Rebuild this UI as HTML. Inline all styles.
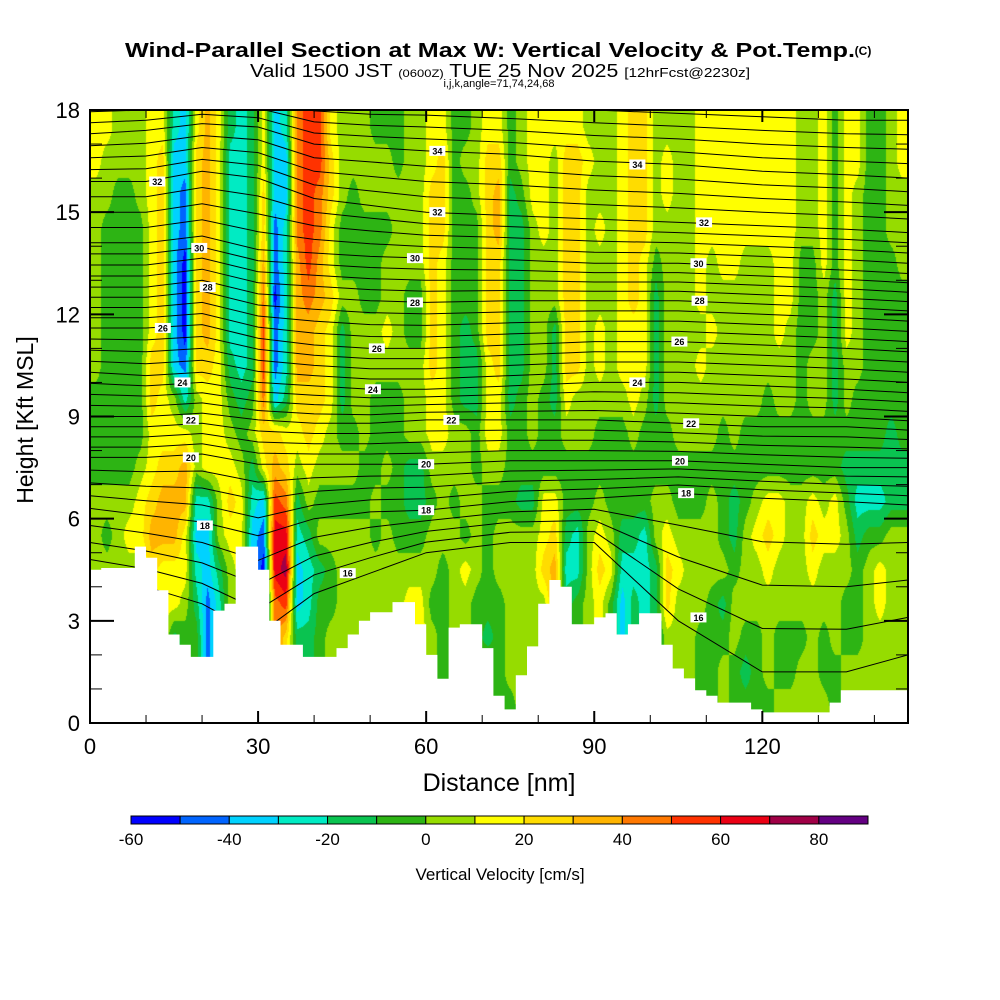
<!DOCTYPE html>
<html><head><meta charset="utf-8">
<style>
body{margin:0;background:#fff;}
#wrap{position:relative;width:1000px;height:1000px;background:#fff;font-family:"Liberation Sans",sans-serif;}
canvas{position:absolute;left:90px;top:110px;}
svg{position:absolute;left:0;top:0;}
</style></head>
<body>
<div id="wrap">
<canvas id="cv" width="818" height="613"></canvas>
<svg id="sv" width="1000" height="1000"></svg>
</div>
<script>
// Vertical velocity (cm/s) per 2-nm column (center 1,3,...,145 nm), rows 0..17 kft (bottom->top)
const wCols = [
[5,5,5,5,5,5,5,-5,-5,-5,5,5,5,5,5,5,15,15],
[5,5,5,5,5,-5,5,-5,-5,-5,-5,-5,-5,-5,-5,5,5,15],
[5,5,5,5,5,5,5,-5,-5,-5,-5,-5,-5,-5,-5,-5,5,5],
[5,5,5,5,5,15,5,-5,-5,-5,-5,-5,-5,-5,-5,-5,5,5],
[5,5,5,5,5,15,15,5,-5,-5,-5,-5,-5,-5,-5,5,5,5],
[25,25,25,25,25,35,25,15,15,25,25,15,15,15,15,15,15,15],
[15,15,15,15,15,35,35,25,15,15,25,25,25,25,25,25,25,15],
[-15,-15,-15,15,15,35,35,25,15,5,-35,-35,-35,-35,-35,-35,-35,-25],
[-5,-5,-5,5,15,15,35,35,15,-25,-45,-55,-55,-55,-45,-45,-35,-35],
[-5,-5,-5,-15,-25,-35,-25,5,5,5,25,25,25,25,25,25,25,15],
[-45,-45,-45,-45,-35,-35,-25,15,15,15,25,35,35,35,35,35,35,35],
[-25,-25,-25,-25,-15,5,5,15,15,15,15,15,15,15,15,15,15,15],
[5,5,5,5,5,15,25,15,5,-5,-15,-25,-25,-25,-25,-25,-25,-15],
[15,15,15,15,15,15,15,5,-5,-15,-25,-25,-25,-25,-25,-25,-25,-25],
[-35,-35,-35,-35,-35,-35,-25,-15,5,-5,-15,-15,-15,-15,-15,-15,-15,-15],
[-55,-55,-55,-55,-55,-45,-35,15,25,45,55,55,45,35,25,25,15,15],
[45,45,45,45,65,65,55,35,25,-35,-45,-45,-55,-45,-45,-35,-35,-35],
[25,25,25,55,75,65,45,25,15,-15,-25,-25,-25,-25,-25,-35,-35,-25],
[-15,-15,-15,-35,-35,-25,-15,5,15,25,35,35,35,35,45,45,45,45],
[-15,-15,-15,-25,-25,-15,5,15,25,25,35,35,45,55,55,55,55,55],
[-5,-5,-5,-5,-15,5,-5,5,15,25,25,25,35,35,45,45,55,55],
[5,5,5,-5,-5,5,-5,5,5,15,15,15,25,15,15,25,25,15],
[5,5,5,5,5,5,-5,5,-5,-15,-15,-15,5,-5,-5,5,5,5],
[5,5,5,5,5,5,-5,5,-5,5,5,5,5,-5,-5,-5,5,5],
[5,5,5,5,5,5,-5,-5,5,5,5,5,-5,-5,-5,5,5,5],
[5,5,5,5,5,-5,5,-5,-5,-5,5,5,-5,-5,-5,5,5,-5],
[5,5,5,5,5,5,-5,5,-5,-5,5,15,5,5,-5,5,5,-5],
[5,5,5,5,5,-5,-5,-5,-5,-5,5,5,5,5,5,5,-5,-5],
[15,15,15,15,5,-5,-15,-15,5,5,5,-5,-5,5,5,5,5,5],
[15,15,15,15,5,-5,-15,-15,5,5,5,-5,-5,5,5,5,5,5],
[5,5,5,-5,5,5,-5,5,15,15,25,25,25,25,25,25,15,15],
[-5,-5,-5,-5,-5,5,5,5,15,15,15,15,15,15,25,25,25,15],
[5,5,5,5,5,5,-5,5,5,-5,-5,-5,-5,-5,-5,-5,-5,-5],
[5,5,5,5,15,-5,5,5,5,-15,-15,-15,-5,-5,-5,-5,5,-5],
[-5,-5,-5,-5,5,5,5,-5,-5,-15,-15,-5,-5,-5,-5,5,5,5],
[5,5,-15,-5,-5,-5,-5,5,15,15,15,25,25,25,25,25,25,15],
[-5,-5,-5,-5,5,5,-5,5,15,15,25,25,25,25,35,35,25,15],
[-5,5,5,5,5,5,-5,-5,-5,-15,-15,-15,-15,-15,-15,-15,-5,-5],
[5,5,5,5,5,5,-15,-5,-5,-5,-15,-15,-15,-15,-15,-5,5,5],
[5,5,5,5,5,5,-15,-5,5,5,5,5,5,5,5,15,15,15],
[5,5,5,5,25,15,15,-5,-5,-5,5,5,5,5,15,15,15,15],
[35,35,35,35,35,25,15,-5,-5,-15,-15,-15,5,5,5,5,5,15],
[-15,-15,-15,-15,-25,-15,-5,-5,5,15,25,25,25,25,25,25,25,15],
[-5,-5,-5,-5,-25,-25,-5,-5,5,5,25,25,25,25,25,25,25,15],
[5,5,5,5,5,5,-5,-5,5,5,5,5,5,5,5,5,15,5],
[15,15,15,15,25,15,5,-5,-5,5,15,15,5,5,15,5,5,5],
[-5,-5,-5,-5,15,5,-5,-5,-5,5,5,5,5,5,5,5,5,5],
[-35,-35,-35,-35,-25,-15,-5,-5,-5,5,15,15,15,15,15,15,15,15],
[-15,-15,-15,-15,-25,-15,-5,-5,5,15,15,15,25,25,25,25,25,25],
[-25,-25,-25,-25,-25,-25,-5,-5,-5,5,15,15,15,15,25,25,25,25],
[-15,-15,-15,-15,-15,5,5,-5,-5,-15,-15,-15,-15,-5,5,5,5,5],
[5,5,5,25,25,15,5,-5,-5,5,5,5,5,5,5,15,15,5],
[5,5,5,5,15,5,-5,-5,5,5,5,5,5,5,5,5,5,5],
[5,5,5,5,5,5,-5,-5,5,5,5,5,5,5,5,5,5,5],
[-5,-5,-5,5,5,5,-5,-5,5,5,15,5,15,15,15,15,15,15],
[-5,-5,-5,-5,5,5,5,-5,5,5,5,15,5,5,15,15,15,15],
[5,5,-5,-15,5,-5,-5,-5,-5,5,5,5,5,15,15,15,15,15],
[-5,-5,5,5,-5,-15,-15,-5,5,5,5,5,5,15,15,15,15,15],
[-5,-15,-5,5,5,5,-5,-5,-5,5,5,5,5,5,15,15,15,15],
[-5,-5,-5,5,5,15,5,-5,-5,5,5,5,5,5,15,15,15,15],
[-5,5,5,5,15,25,15,-5,-5,-5,5,5,5,5,15,15,15,15],
[5,-5,-5,5,5,15,15,-5,-5,5,5,15,15,15,15,15,15,15],
[5,-5,-5,5,5,5,5,-5,-5,5,5,5,15,15,15,15,15,15],
[5,5,-5,5,5,5,5,-5,-5,-5,-5,-5,-5,-5,5,5,5,5],
[5,5,5,5,15,25,15,-5,-5,5,5,-5,-5,-5,5,5,5,5],
[5,-5,-5,5,5,15,5,-5,-5,5,5,5,5,15,15,15,15,15],
[-5,-5,5,5,5,15,15,-5,-5,-15,-15,-15,-15,-5,-5,-5,-5,-5],
[5,5,-5,-5,5,5,-5,-15,-5,5,5,15,15,15,15,15,15,15],
[5,5,-5,-5,-5,-15,-25,-15,-5,-5,5,5,5,5,5,5,15,15],
[5,5,5,5,5,-5,-25,-15,-5,-5,-5,-5,-5,-5,-5,-5,-5,-5],
[5,5,5,15,15,-5,-25,-15,-5,-5,-5,-5,-5,-5,-5,-5,-5,-5],
[5,5,5,5,5,5,-15,-15,-15,-5,-5,-5,-5,-5,5,5,5,5],
[5,5,5,5,5,5,-15,-15,-5,-5,-5,-5,-5,5,5,5,15,15]
];
// Terrain height (kft) per 2-nm column
const terrain = [4.5,4.55,4.55,4.55,5.18,4.85,3.9,2.6,2.3,1.94,1.94,3.3,3.5,5.18,5.18,4.5,3.0,2.3,2.3,1.94,1.94,1.94,2.2,2.6,3.0,3.25,3.25,3.55,3.55,2.9,2.0,1.3,2.8,2.9,2.9,2.2,0.8,0.4,1.4,2.25,3.5,4.2,4.0,2.9,2.9,3.1,3.22,2.6,2.9,3.22,3.22,2.3,1.6,1.31,0.96,0.8,0.6,0.6,0.6,0.4,0.31,0.31,0.31,0.31,0.31,0.31,0.6,0.96,0.96,0.96,0.96,0.96,0.96];
// Potential temperature contour heights (kft) at anchor distances
const thetaX = [0,10,20,30,40,50,60,75,90,105,120,135,146];
const thetaLevels = [16,18,20,22,24,26,28,30,32,34,36];
const thetaH = [
[4.3,4.0,3.5,2.6,3.8,4.4,5.0,5.3,5.3,3.0,1.5,1.5,2.0],
[6.3,6.1,5.9,5.5,6.0,6.2,6.25,6.5,6.6,6.75,6.6,6.5,6.4],
[7.8,7.8,7.9,7.6,7.6,7.6,7.6,7.7,7.7,7.7,7.6,7.5,7.5],
[9.0,9.0,9.1,8.9,8.8,8.8,8.9,8.9,8.9,8.8,8.7,8.7,8.6],
[10.3,10.2,10.3,10.0,9.9,9.8,9.8,9.9,10.0,10.0,9.9,9.8,9.7],
[11.6,11.6,11.7,11.3,11.1,11.0,11.0,11.1,11.2,11.2,11.1,11.0,10.9],
[12.8,12.8,13.0,12.6,12.5,12.4,12.35,12.4,12.4,12.4,12.3,12.2,12.1],
[14.1,14.1,14.3,13.9,13.8,13.7,13.65,13.6,13.5,13.5,13.4,13.3,13.2],
[15.9,15.9,16.2,16.0,15.4,15.2,15.0,14.9,14.8,14.7,14.6,14.5,14.4],
[17.3,17.4,17.6,17.5,17.0,16.9,16.8,16.7,16.5,16.4,16.2,16.1,16.0],
[18.6,18.6,18.7,18.6,18.3,18.2,18.2,18.1,18.0,17.9,17.8,17.7,17.7]
];
// contour labels: [theta, distance nm, height kft]
const thetaLabels = [[32,12,15.9],[30,19.5,13.95],[28,21,12.8],[26,13,11.6],[24,16.5,10.0],[22,18,8.9],[20,18,7.8],[18,20.5,5.8],
[34,62,16.8],[32,62,15.0],[30,58,13.65],[28,58,12.35],[26,51.2,11.0],[24,50.5,9.8],[22,64.5,8.9],[20,60,7.6],[18,60,6.25],[16,46,4.4],
[34,97.7,16.4],[32,109.6,14.7],[30,108.6,13.5],[28,108.8,12.4],[26,105.2,11.2],[24,97.7,10.0],[22,107.3,8.8],[20,105.3,7.7],[18,106.4,6.75],[16,108.6,3.1]];
const cbValues = [-60,-50,-40,-30,-20,-10,0,10,20,30,40,50,60,70,80,90];
const cbTickLabels = [-60,-40,-20,0,20,40,60,80];
const xTicks = [0,30,60,90,120];
const yTicks = [0,3,6,9,12,15,18];
const colors = ["#0000ff","#0064ff","#00d2ff","#00ebc3","#0ac350","#2db414","#96dc00","#ffff00","#ffdc00","#ffb400","#ff7800","#ff3200","#eb0014","#a00046","#640082"];

const X0=90,X1=908,Y0=723,Y1=110,XMAX=146,YMAX=18;
const sx = d => X0 + (X1-X0)*d/XMAX;
const sy = h => Y0 - (Y0-Y1)*h/YMAX;
function colorFor(v){let i=Math.floor((v-cbValues[0])/10);i=Math.max(0,Math.min(colors.length-1,i));return colors[i];}

const cv=document.getElementById('cv'),ctx=cv.getContext('2d');
const img=ctx.createImageData(818,613);
const rgb=colors.map(c=>[parseInt(c.substr(1,2),16),parseInt(c.substr(3,2),16),parseInt(c.substr(5,2),16)]);
const nC=wCols.length,nR=wCols[0].length;
for(let py=0;py<613;py++){
  const h=(613-py-0.5)/613*YMAX;
  let fy=h-0.5; fy=Math.max(0,Math.min(nR-1.0001,fy));
  const r0=Math.floor(fy),ty=fy-r0;
  for(let px=0;px<818;px++){
    const d=(px+0.5)/818*XMAX;
    let fx=d/2-0.5; fx=Math.max(0,Math.min(nC-1.0001,fx));
    const c0=Math.floor(fx),tx=fx-c0;
    const v=(wCols[c0][r0]*(1-tx)+wCols[c0+1][r0]*tx)*(1-ty)+(wCols[c0][r0+1]*(1-tx)+wCols[c0+1][r0+1]*tx)*ty;
    let i=Math.floor((v-cbValues[0])/10);i=Math.max(0,Math.min(14,i));
    const k=(py*818+px)*4;img.data[k]=rgb[i][0];img.data[k+1]=rgb[i][1];img.data[k+2]=rgb[i][2];img.data[k+3]=255;
  }
}
ctx.putImageData(img,0,0);

const NS="http://www.w3.org/2000/svg";const sv=document.getElementById('sv');
function mk(tag,attrs,parent){const e=document.createElementNS(NS,tag);for(const k in attrs)e.setAttribute(k,attrs[k]);(parent||sv).appendChild(e);return e;}
const clip=mk('clipPath',{id:'pc'});mk('rect',{x:X0,y:Y1,width:X1-X0,height:Y0-Y1},clip);

const gT=mk('g',{'clip-path':'url(#pc)'});


for(let li=0;li<thetaLevels.length;li++){
  const subs = li<thetaLevels.length-1?4:1;
  for(let s=0;s<subs;s++){
    const t=s/4;
    let d='';
    for(let a=0;a<thetaX.length;a++){
      const h = li<thetaLevels.length-1 ? thetaH[li][a]*(1-t)+thetaH[li+1][a]*t : thetaH[li][a];
      d+=(a?'L':'M')+sx(thetaX[a]).toFixed(1)+','+sy(h).toFixed(1);
    }
    const p=mk('path',{d:d,fill:'none',stroke:'#000','stroke-width':1},gT);
    
    
  }
}
let td='M'+sx(0)+','+sy(0);
for(let i=0;i<terrain.length;i++){td+='L'+sx(2*i).toFixed(1)+','+sy(terrain[i]).toFixed(1)+'L'+sx(Math.min(2*i+2,XMAX)).toFixed(1)+','+sy(terrain[i]).toFixed(1);}
td+='L'+sx(XMAX)+','+sy(0)+'Z';
const tp=mk('path',{d:td,fill:'#fff',stroke:'none','clip-path':'url(#pc)'});


for(const L of thetaLabels){
  const x=sx(L[1]),y=sy(L[2]);
  const g=mk('g',{});
  
  
  mk('rect',{x:x-8,y:y-5,width:16,height:10,fill:'#fff'},g);
  const t=mk('text',{x:x,y:y+3.5,'font-size':9,'font-weight':'bold','text-anchor':'middle','font-family':'Liberation Sans, sans-serif'},g);t.textContent=L[0];
}
const fr=mk('rect',{x:X0,y:Y1,width:X1-X0,height:Y0-Y1,fill:'none',stroke:'#000','stroke-width':2});


for(let d=0;d<=140;d+=10){
  const maj=d%30===0,len=maj?12:8;
  mk('line',{x1:sx(d),y1:Y0,x2:sx(d),y2:Y0-len,stroke:'#000','stroke-width':maj?2:1});
  mk('line',{x1:sx(d),y1:Y1,x2:sx(d),y2:Y1+len,stroke:'#000','stroke-width':maj?2:1});
}
for(let h=0;h<=18;h++){
  const maj=h%3===0,len=maj?24:12;
  mk('line',{x1:X0,y1:sy(h),x2:X0+len,y2:sy(h),stroke:'#000','stroke-width':maj?2:1});
  mk('line',{x1:X1,y1:sy(h),x2:X1-len,y2:sy(h),stroke:'#000','stroke-width':maj?2:1});
}
for(const d of xTicks){const t=mk('text',{x:sx(d),y:754,'font-size':22,'text-anchor':'middle'});t.textContent=d;

}
for(const h of yTicks){const t=mk('text',{x:80,y:sy(h)+8,'font-size':22,'text-anchor':'end'});t.textContent=h;

}
const CB0=131,CB1=868;const cw=(CB1-CB0)/(cbValues.length-1);
for(let i=0;i<cbValues.length-1;i++){
  const r=mk('rect',{x:CB0+i*cw,y:816,width:cw,height:8,fill:colorFor(cbValues[i]+5),stroke:'#000','stroke-width':1});
  
  
}
for(const v of cbTickLabels){const t=mk('text',{x:CB0+(v-cbValues[0])/10*cw,y:845,'font-size':17,'text-anchor':'middle'});t.textContent=v;

}
</script>
<svg width="1000" height="1000" style="position:absolute;left:0;top:0;pointer-events:none">
<text x="490" y="57" font-size="20" font-weight="bold" text-anchor="middle" textLength="730" lengthAdjust="spacingAndGlyphs" font-family="Liberation Sans, sans-serif">Wind-Parallel Section at Max W: Vertical Velocity &amp; Pot.Temp.</text>
<text x="863" y="55" font-size="12" font-weight="bold" text-anchor="middle" font-family="Liberation Sans, sans-serif">(C)</text>
<text x="500" y="77" font-size="18" text-anchor="middle" textLength="500" lengthAdjust="spacingAndGlyphs" font-family="Liberation Sans, sans-serif">Valid 1500 JST <tspan font-size="11">(0600Z)</tspan> TUE 25 Nov 2025 <tspan font-size="13">[12hrFcst@2230z]</tspan></text>
<text x="499" y="87" font-size="11" text-anchor="middle" font-family="Liberation Sans, sans-serif">i,j,k,angle=71,74,24,68</text>
<text x="499" y="791" font-size="25" text-anchor="middle" font-family="Liberation Sans, sans-serif">Distance [nm]</text>
<text x="33" y="420" font-size="23" text-anchor="middle" transform="rotate(-90 33 420)" font-family="Liberation Sans, sans-serif">Height [Kft MSL]</text>
<text x="500" y="880" font-size="17" text-anchor="middle" font-family="Liberation Sans, sans-serif">Vertical Velocity [cm/s]</text>
</svg>
</body></html>
